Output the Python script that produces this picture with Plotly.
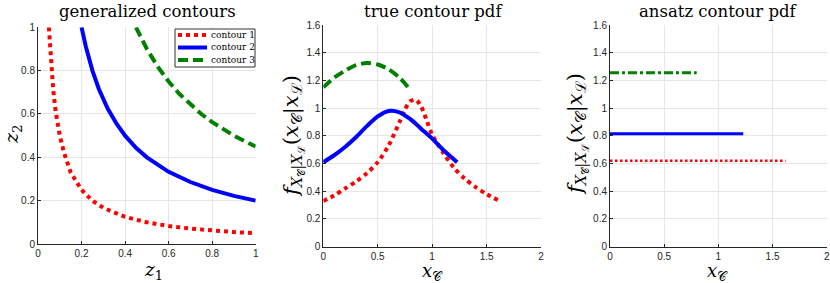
import plotly.graph_objects as go

# ---- data ----
# panel 1: generalized contours
c1_z1 = [0.05, 0.06, 0.07, 0.08, 0.10, 0.12, 0.15, 0.20, 0.25, 0.30, 0.40, 0.50, 0.60, 0.70, 0.80, 0.90, 1.00]
c1_z2 = [1.00, 0.83, 0.71, 0.62, 0.50, 0.42, 0.33, 0.25, 0.20, 0.167, 0.125, 0.10, 0.083, 0.071, 0.062, 0.055, 0.05]
c2_z1 = [0.20, 0.22, 0.25, 0.28, 0.32, 0.36, 0.40, 0.45, 0.50, 0.60, 0.70, 0.80, 0.90, 1.00]
c2_z2 = [1.00, 0.91, 0.80, 0.714, 0.625, 0.556, 0.50, 0.444, 0.40, 0.333, 0.286, 0.25, 0.222, 0.20]
c3_z1 = [0.45, 0.50, 0.55, 0.60, 0.65, 0.70, 0.75, 0.80, 0.85, 0.90, 0.95, 1.00]
c3_z2 = [1.00, 0.90, 0.818, 0.75, 0.692, 0.643, 0.60, 0.5625, 0.53, 0.50, 0.474, 0.45]

# panel 2: true contour pdf
t1_x = [0.00, 0.10, 0.20, 0.30, 0.40, 0.50, 0.60, 0.70, 0.75, 0.80, 0.85, 0.90, 0.95, 1.00, 1.10, 1.20, 1.30, 1.40, 1.50, 1.62]
t1_y = [0.33, 0.37, 0.42, 0.47, 0.53, 0.61, 0.73, 0.90, 0.99, 1.05, 1.06, 1.01, 0.91, 0.81, 0.68, 0.57, 0.49, 0.43, 0.38, 0.33]
t2_x = [0.00, 0.10, 0.20, 0.30, 0.40, 0.50, 0.60, 0.70, 0.80, 0.90, 1.00, 1.10, 1.23]
t2_y = [0.61, 0.66, 0.72, 0.79, 0.87, 0.94, 0.98, 0.97, 0.92, 0.85, 0.78, 0.70, 0.61]
t3_x = [0.00, 0.10, 0.20, 0.30, 0.40, 0.50, 0.60, 0.70, 0.78]
t3_y = [1.15, 1.22, 1.27, 1.31, 1.325, 1.315, 1.28, 1.22, 1.15]

# panel 3: ansatz contour pdf (constant levels)
a_xend = [1.62, 1.23, 0.80]
a_level = [0.62, 0.815, 1.255]

names = ["contour 1", "contour 2", "contour 3"]
colors = ["#ff0000", "#0000ff", "#008000"]

W, H = 830, 283

def px(x):
    return x / W

def py(y):
    return 1 - y / H

fig = go.Figure()

serif = "DejaVu Serif, Liberation Serif, serif"
sans = "Liberation Sans, Arial, sans-serif"
axcol = "#262626"
gridcol = "#e6e6e6"

dash_thick = ["4px,4px", "solid", "10px,5px"]

# panel 1
for xs, ys, i in [(c1_z1, c1_z2, 0), (c2_z1, c2_z2, 1), (c3_z1, c3_z2, 2)]:
    fig.add_trace(go.Scatter(x=xs, y=ys, mode="lines", name=names[i], showlegend=False,
                             line=dict(color=colors[i], width=4, dash=dash_thick[i]), xaxis="x", yaxis="y"))

# panel 2
for xs, ys, i in [(t1_x, t1_y, 0), (t2_x, t2_y, 1), (t3_x, t3_y, 2)]:
    fig.add_trace(go.Scatter(x=xs, y=ys, mode="lines", showlegend=False, line_shape="spline",
                             line=dict(color=colors[i], width=4, dash=dash_thick[i], smoothing=0.8),
                             xaxis="x2", yaxis="y2"))

# panel 3
dashes3 = ["2.5px,2.5px", "solid", "9px,3px,3px,3px"]
widths3 = [2.5, 3, 3]
for i in range(3):
    fig.add_trace(go.Scatter(x=[0, a_xend[i]], y=[a_level[i], a_level[i]], mode="lines", showlegend=False,
                             line=dict(color=colors[i], width=widths3[i], dash=dashes3[i]),
                             xaxis="x3", yaxis="y3"))

def ax(domain, rng, tickvals, anchor):
    return dict(domain=domain, range=rng, tickvals=tickvals, ticktext=[f"{v:g}" for v in tickvals],
                anchor=anchor, showgrid=True, gridcolor=gridcol, gridwidth=1, zeroline=False,
                showline=True, linecolor=axcol, linewidth=1, ticks="inside", ticklen=3,
                tickcolor=axcol, tickfont=dict(family=sans, size=10, color=axcol))

t01 = [0, 0.2, 0.4, 0.6, 0.8, 1]
t02 = [0, 0.5, 1, 1.5, 2]
t16 = [0, 0.2, 0.4, 0.6, 0.8, 1, 1.2, 1.4, 1.6]

fig.update_layout(
    width=W, height=H,
    margin=dict(l=0, r=0, t=0, b=0, autoexpand=False),
    paper_bgcolor="white", plot_bgcolor="white",
    showlegend=False,
    xaxis=ax([px(38), px(255.7)], [0, 1], t01, "y"),
    yaxis=ax([py(244), py(27.3)], [0, 1], t01, "x"),
    xaxis2=ax([px(323.3), px(541)], [0, 2], t02, "y2"),
    yaxis2=ax([py(246.7), py(25)], [0, 1.6], t16, "x2"),
    xaxis3=ax([px(610), px(826.7)], [0, 2], t02, "y3"),
    yaxis3=ax([py(246.7), py(25)], [0, 1.6], t16, "x3"),
)

# ---- legend box (panel 1, top-right) ----
fig.add_shape(type="rect", xref="paper", yref="paper", x0=px(175), x1=px(255), y0=py(29), y1=py(67),
              line=dict(color="#333333", width=1), fillcolor="white", layer="above")
leg_rows = [35, 47.5, 60]
for i in range(3):
    fig.add_shape(type="line", xref="paper", yref="paper", x0=px(178), x1=px(207),
                  y0=py(leg_rows[i]), y1=py(leg_rows[i]), layer="above",
                  line=dict(color=colors[i], width=4, dash=dash_thick[i]))
    fig.add_annotation(text=names[i], x=px(209), y=py(leg_rows[i]), xref="paper", yref="paper",
                       xanchor="left", yanchor="middle", showarrow=False,
                       font=dict(family=serif, size=9, color="black"))

# ---- titles and axis labels ----
ylab = ("<i>f</i><sub><i>X</i><sub>𝒞</sub>|<i>X</i><sub>ℒ</sub></sub>"
        "(<i>x</i><sub>𝒞</sub>|<i>x</i><sub>ℒ</sub>)")
for text, cx in [("generalized contours", 147), ("true contour pdf", 433), ("ansatz contour pdf", 718)]:
    fig.add_annotation(text=text, x=px(cx), y=py(12), xref="paper", yref="paper",
                       showarrow=False, font=dict(family=serif, size=16.5, color="black"),
                       xanchor="center", yanchor="middle")

fig.add_annotation(text="<i>z</i><sub>1</sub>", x=px(153), y=py(271), xref="paper", yref="paper",
                   xanchor="center", yanchor="middle",
                   showarrow=False, font=dict(family=serif, size=18.5, color="black"))
fig.add_annotation(text="<i>z</i><sub>2</sub>", x=px(12), y=py(135), xref="paper", yref="paper",
                   xanchor="center", yanchor="middle",
                   showarrow=False, textangle=-90, font=dict(family=serif, size=19, color="black"))
for cx in [432, 717]:
    fig.add_annotation(text="<i>x</i><sub>𝒞</sub>", x=px(cx), y=py(271.5), xref="paper", yref="paper",
                       xanchor="center", yanchor="middle",
                       showarrow=False, font=dict(family=serif, size=18, color="black"))
for lx, ly in [(293, 136), (577, 134)]:
    fig.add_annotation(text=ylab, x=px(lx), y=py(ly), xref="paper", yref="paper",
                       xanchor="center", yanchor="middle",
                       showarrow=False, textangle=-90, font=dict(family=serif, size=21, color="black"))

fig.write_html("out.html", config={"displayModeBar": False},
               post_script="document.body.style.margin='0px';document.body.style.overflow='hidden';")
